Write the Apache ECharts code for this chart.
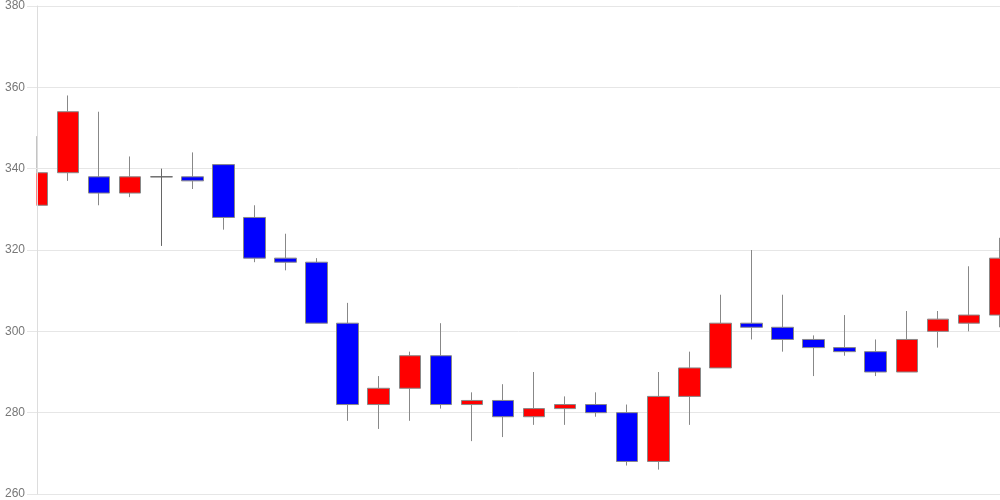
<!DOCTYPE html>
<html>
<head>
<meta charset="utf-8">
<script src="https://cdn.jsdelivr.net/npm/echarts@6/dist/echarts.min.js"></script>
<style>
  html, body { margin: 0; padding: 0; background: #fff; }
  #chart { width: 1000px; height: 500px; }
</style>
</head>
<body>
<div id="chart"></div>
<script>
// 32 sessions, values: open, close, low, high
const days = Array.from({ length: 32 }, (_, i) => String(i + 1));
const opens  = [331, 339, 338, 334, 338, 338, 341, 328, 318, 317, 302, 282, 286, 294, 282, 283,
                279, 281, 282, 280, 268, 284, 291, 302, 301, 298, 296, 295, 290, 300, 302, 304];
const closes = [339, 354, 334, 338, 338, 337, 328, 318, 317, 302, 282, 286, 294, 282, 283, 279,
                281, 282, 280, 268, 284, 291, 302, 301, 298, 296, 295, 290, 298, 303, 304, 318];
const lows   = [331, 337, 331, 333, 321, 335, 325, 317, 315, 302, 278, 276, 278, 281, 273, 274,
                277, 277, 279, 267, 266, 277, 291, 298, 295, 289, 294, 289, 290, 296, 300, 301];
const highs  = [348, 358, 354, 343, 340, 344, 341, 331, 324, 318, 307, 289, 295, 302, 285, 287,
                290, 284, 285, 282, 290, 295, 309, 320, 309, 299, 304, 298, 305, 305, 316, 323];
const yTicks = [260, 280, 300, 320, 340, 360, 380];

const candles = days.map((d, i) => [opens[i], closes[i], lows[i], highs[i]]);

const yMin = yTicks[0];
const yMax = yTicks[yTicks.length - 1];

const myChart = echarts.init(document.getElementById("chart"));
const option = {
  animation: false,
  grid: { left: 37, right: 0, top: 6, bottom: 6 },
  // white mask left of the y axis so the first candle is cut at the axis
  graphic: [
    {
      type: "rect",
      left: 0,
      top: 0,
      shape: { width: 36.5, height: 500 },
      style: { fill: "#fff" },
      z: 5,
    },
  ],
  xAxis: {
    type: "category",
    data: days,
    boundaryGap: false,
    axisLabel: { show: false },
    axisTick: { show: false },
    axisLine: { lineStyle: { color: "#e6e6e6" } },
    splitLine: { show: false },
  },
  yAxis: [
    {
      // grid lines only, drawn under the candles
      type: "value",
      min: yMin,
      max: yMax,
      interval: 20,
      axisLine: { show: false },
      axisTick: { show: false },
      axisLabel: { show: false },
      splitLine: { lineStyle: { color: "#e6e6e6" } },
    },
    {
      // labels, ticks and axis line, drawn above the mask
      type: "value",
      position: "left",
      z: 10,
      min: yMin,
      max: yMax,
      interval: 20,
      axisLine: { show: true, lineStyle: { color: "#dddddd" } },
      axisTick: { show: true, length: 10, lineStyle: { color: "#e6e6e6" } },
      axisLabel: { color: "#777", fontSize: 12, fontFamily: "Liberation Sans, Arial", margin: 12 },
      splitLine: { show: false },
    },
  ],
  series: [
    {
      type: "candlestick",
      yAxisIndex: 0,
      data: candles,
      barWidth: 22,
      itemStyle: {
        color: "#ff0000",
        color0: "#0000ff",
        borderColor: "#888888",
        borderColor0: "#888888",
        borderColorDoji: "#666666",
        borderWidth: 1,
      },
    },
  ],
};
myChart.setOption(option, true);

window.addEventListener("resize", () => {
  myChart.resize();
});
</script>
</body>
</html>
